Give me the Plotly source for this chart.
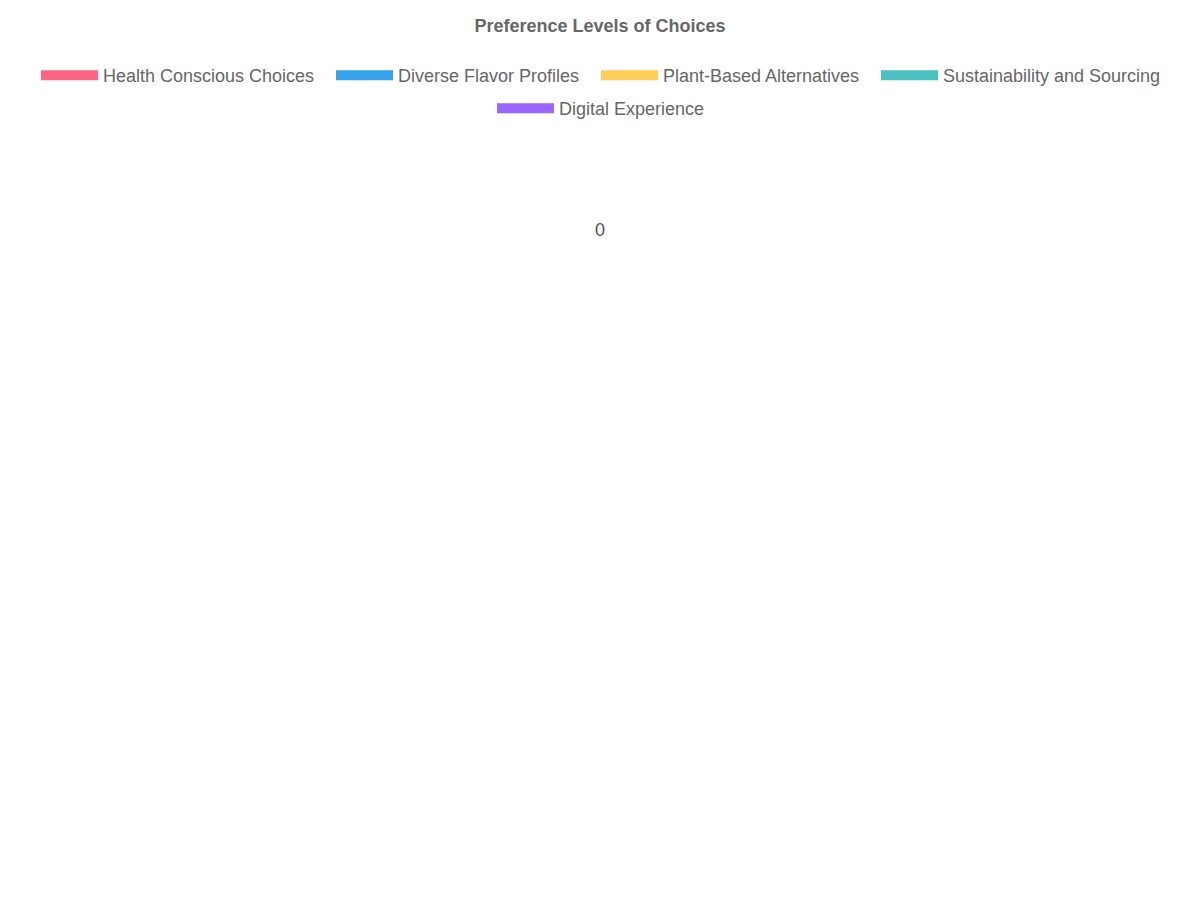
import plotly.graph_objects as go

# 数据
series_names = [
    "Health Conscious Choices",
    "Diverse Flavor Profiles",
    "Plant-Based Alternatives",
    "Sustainability and Sourcing",
    "Digital Experience",
]
series_colors = ["#FF6384", "#36A2EB", "#FFCE56", "#4BC0C0", "#9966FF"]
categories = [None]
series_values = [[None], [None], [None], [None], [None]]  # 图中没有数据点
radial_ticks = [0]

# 图例位置(像素,相对图区左上角)
legend_x = [28, 323, 588, 868, 484]
legend_top = [49, 49, 49, 49, 82]

fig = go.Figure()

legends = {}
for i, (name, color, values) in enumerate(zip(series_names, series_colors, series_values)):
    key = "legend" if i == 0 else f"legend{i + 1}"
    fig.add_trace(go.Scatter(
        x=categories, y=values, name=name, mode="lines", legend=key,
        line=dict(color=color, width=15),
    ))
    legends[key] = dict(
        orientation="h", x=legend_x[i] / 1184, xanchor="left",
        y=1 - legend_top[i] / 900, yanchor="top", yref="container",
        itemwidth=57, font=dict(size=18, color="#666666"),
    )

# 径向刻度标签
fig.add_trace(go.Scatter(
    x=[0] * len(radial_ticks), y=radial_ticks, mode="text",
    text=[str(t) for t in radial_ticks], showlegend=False,
    textfont=dict(size=18, color="#555555", family="Liberation Sans, Arial"),
    hoverinfo="skip",
))

fig.update_layout(
    width=1200, height=900,
    paper_bgcolor="white", plot_bgcolor="white",
    margin=dict(l=0, r=16, t=130, b=10),
    font=dict(family="Liberation Sans, Arial", size=18, color="#666666"),
    title=dict(text="<b>Preference Levels of Choices</b>", x=592 / 1200, xanchor="center",
               y=0.98, yanchor="middle", font=dict(size=18, color="#666666")),
    xaxis=dict(visible=False, range=[-1, 1]),
    yaxis=dict(visible=False, range=[-7.17, 1]),
    **legends,
)

fig.write_html("out.html")
